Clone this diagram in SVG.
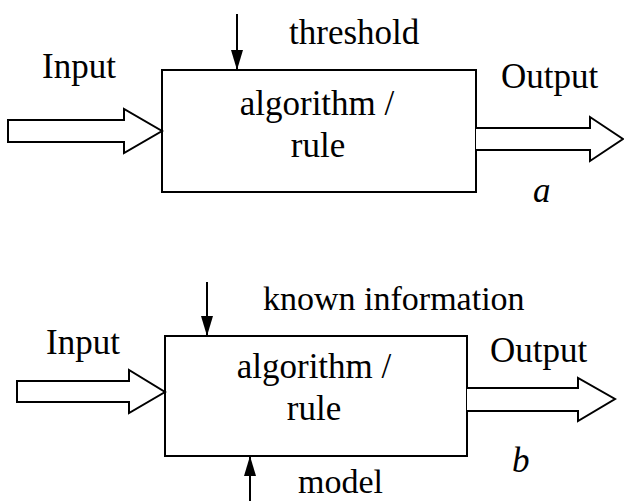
<svg xmlns="http://www.w3.org/2000/svg" width="624" height="501" viewBox="0 0 624 501">
<defs>
<style>
.box{fill:#fff;stroke:#000;stroke-width:2}
.big{fill:#fff;stroke:#000;stroke-width:2;stroke-linejoin:miter}
.thin{stroke:#000;stroke-width:2;fill:none}
text{font-family:'Liberation Serif','Times New Roman',serif;font-size:35px;fill:#000}
.c{text-anchor:middle}
.i{font-style:italic}
.s{font-size:34px}
</style>
<marker id="ah" viewBox="0 0 20 12" refX="20" refY="6" markerWidth="20" markerHeight="12" markerUnits="userSpaceOnUse" orient="auto">
<path d="M0,0 L20,6 L0,12 Z" fill="#000"/>
</marker>
</defs>
<rect width="624" height="501" fill="#fff"/>

<g id="nodeA">
<rect class="box" x="162" y="70" width="314" height="122"/>
<text class="c" x="317" y="115">algorithm /</text>
<text class="c" x="318" y="157">rule</text>
</g>
<g id="labelsA">
<text x="42" y="78">Input</text>
<text x="289" y="44">threshold</text>
<text x="501" y="88">Output</text>
<text class="i" x="533" y="202">a</text>
</g>

<g id="nodeB">
<rect class="box" x="165" y="336" width="302" height="120"/>
<text class="c" x="314" y="378">algorithm /</text>
<text class="c" x="314" y="420">rule</text>
</g>
<g id="labelsB">
<text x="46" y="354">Input</text>
<text class="s" x="263" y="310">known information</text>
<text x="490" y="362">Output</text>
<text class="i" x="512" y="472">b</text>
<text class="s" x="298" y="493">model</text>
</g>

<g id="connectors">
<path class="big" d="M8,120 L124,120 L124,109 L162,131 L124,153 L124,142 L8,142 Z"/>
<path class="big" d="M476,128 L590,128 L590,117 L623,139 L590,161 L590,150 L476,150"/>
<line class="thin" x1="237" y1="14" x2="237" y2="70" marker-end="url(#ah)"/>

<path class="big" d="M17,381 L129,381 L129,370 L165,392 L129,413 L129,402 L17,402 Z"/>
<path class="big" d="M467,388 L578,388 L578,378 L615,399 L578,421 L578,411 L467,411"/>
<line class="thin" x1="207" y1="282" x2="207" y2="336" marker-end="url(#ah)"/>
<line class="thin" x1="250" y1="501" x2="250" y2="456" marker-end="url(#ah)"/>
</g>
</svg>
